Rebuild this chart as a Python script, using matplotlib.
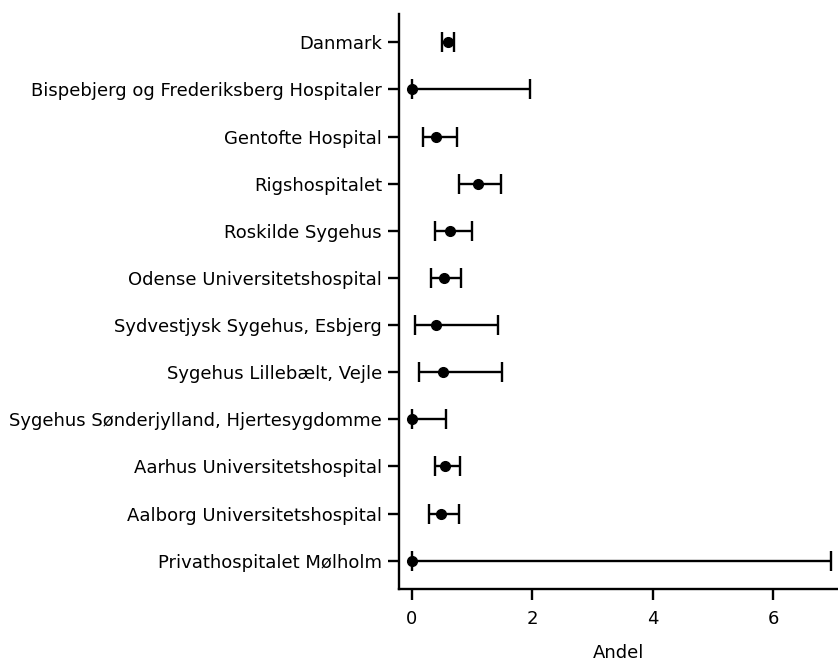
import matplotlib
matplotlib.use("Agg")
import matplotlib.pyplot as plt
import numpy as np

categories = [
    "Danmark",
    "Bispebjerg og Frederiksberg Hospitaler",
    "Gentofte Hospital",
    "Rigshospitalet",
    "Roskilde Sygehus",
    "Odense Universitetshospital",
    "Sydvestjysk Sygehus, Esbjerg",
    "Sygehus Lillebælt, Vejle",
    "Sygehus Sønderjylland, Hjertesygdomme",
    "Aarhus Universitetshospital",
    "Aalborg Universitetshospital",
    "Privathospitalet Mølholm",
]
estimate = [0.60, 0.00, 0.41, 1.10, 0.64, 0.53, 0.40, 0.52, 0.00, 0.56, 0.49, 0.00]
lower = [0.51, 0.00, 0.19, 0.79, 0.39, 0.32, 0.06, 0.13, 0.00, 0.38, 0.29, 0.00]
upper = [0.70, 1.96, 0.75, 1.48, 1.00, 0.82, 1.43, 1.50, 0.57, 0.81, 0.78, 6.96]
xticks = [0, 2, 4, 6]

plt.rcParams['font.family'] = ['DejaVu Sans']

W, H = 838, 664
fig = plt.figure(figsize=(W / 100, H / 100), dpi=100)
ax = fig.add_axes([398.7 / W, 75 / H, (W - 398.7) / W, (589 - 14) / H])

est = np.array(estimate)
lo = np.array(lower)
up = np.array(upper)
y = np.arange(len(categories))
ax.errorbar(est, y, xerr=[est - lo, up - est], fmt='o', color='black',
            ecolor='black', elinewidth=1.7, capsize=7.5, capthick=1.7,
            markersize=7)

ax.set_yticks(y)
ax.set_yticklabels(categories, fontsize=13)
ax.set_ylim(11.6, -0.6)
ax.set_xticks(xticks)
ax.set_xticklabels([str(t) for t in xticks], fontsize=13)
ax.set_xlim(-0.215, 7.08)
ax.set_xlabel("Andel", fontsize=13, labelpad=12)

for s in ['top', 'right']:
    ax.spines[s].set_visible(False)
for s in ['left', 'bottom']:
    ax.spines[s].set_linewidth(1.7)
ax.tick_params(axis='y', width=1.7, length=8, color='black', pad=4)
ax.tick_params(axis='x', width=1.7, length=8, color='black', pad=7)

fig.savefig("out.png", dpi=100)
